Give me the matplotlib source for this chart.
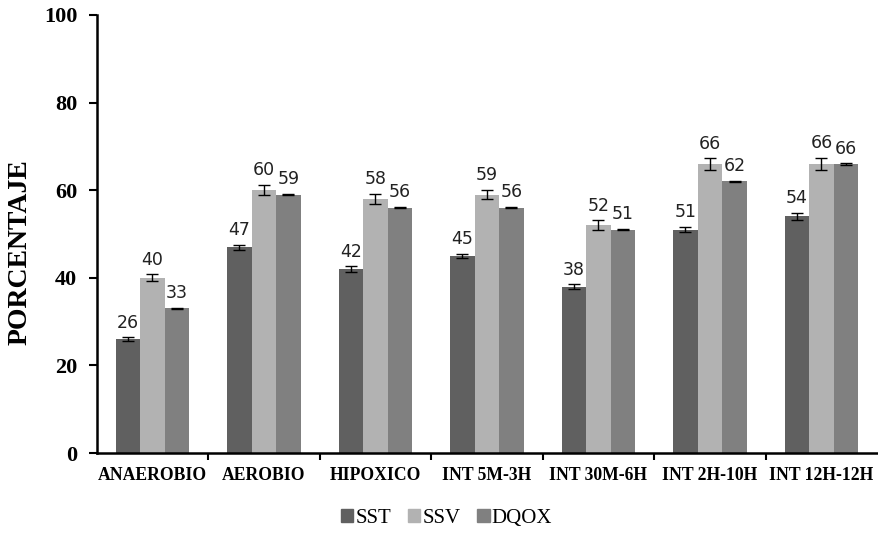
import numpy as np
import matplotlib.pyplot as plt
from matplotlib.patches import Patch

categories = ['ANAEROBIO', 'AEROBIO', 'HIPOXICO', 'INT 5M-3H',
              'INT 30M-6H', 'INT 2H-10H', 'INT 12H-12H']
sst = [26, 47, 42, 45, 38, 51, 54]
ssv = [40, 60, 58, 59, 52, 66, 66]
dqox = [33, 59, 56, 56, 51, 62, 66]
sst_err = [0.4, 0.6, 0.6, 0.5, 0.5, 0.6, 0.8]
ssv_err = [0.8, 1.2, 1.2, 1.1, 1.1, 1.3, 1.4]
dqox_err = [0.15, 0.15, 0.15, 0.15, 0.15, 0.15, 0.15]

series = [('SST', sst, sst_err, '#606060'),
          ('SSV', ssv, ssv_err, '#b2b2b2'),
          ('DQOX', dqox, dqox_err, '#808080')]

serif = ['Liberation Serif', 'DejaVu Serif']

fig = plt.figure(figsize=(8.79, 5.33), dpi=100)
ax = fig.add_axes([0.110, 0.150, 0.888, 0.822])

x = np.arange(len(categories))
w = 0.22
for i, (name, vals, errs, col) in enumerate(series):
    pos = x + (i - 1) * w
    ax.bar(pos, vals, w, color=col, label=name, zorder=2)
    ax.errorbar(pos, vals, yerr=errs, fmt='none', ecolor='black',
                elinewidth=1, capsize=4, capthick=1, zorder=3)
    for p, v, e in zip(pos, vals, errs):
        ax.annotate(str(v), (p, v + e), xytext=(0, 4), textcoords='offset points',
                    ha='center', va='bottom', fontsize=12.5,
                    family='DejaVu Sans', color='#222222')

ax.set_xlim(-0.5, len(categories) - 0.5)
ax.set_ylim(0, 100)
ax.set_yticks(range(0, 101, 20))
ax.set_yticklabels([str(v) for v in range(0, 101, 20)],
                   family=serif, fontweight='bold', fontsize=16)
ax.set_xticks(x)
ax.set_xticklabels(categories, family=serif, fontweight='bold', fontsize=12.7)
ax.tick_params(axis='x', length=0, pad=10)
ax.set_xticks(np.arange(0.5, len(categories) - 1, 1), minor=True)
ax.tick_params(axis='x', which='minor', length=5, width=1.5, direction='out')
ax.tick_params(axis='y', length=6, width=1.5, direction='out', pad=8)

for s in ['top', 'right']:
    ax.spines[s].set_visible(False)
for s in ['left', 'bottom']:
    ax.spines[s].set_linewidth(1.8)

fig.text(20 / 879, 1 - 252 / 533, 'PORCENTAJE', rotation=90, ha='center',
         va='center', family=serif, fontweight='bold', fontsize=20)

handles = [Patch(color=col, label=name) for name, _, _, col in series]
fig.legend(handles=handles, loc='center', bbox_to_anchor=(0.508, 0.028),
           ncol=3, frameon=False, prop={'family': serif, 'size': 15},
           handlelength=0.6, handleheight=0.6, handletextpad=0.1,
           columnspacing=0.8)

fig.savefig('out.png', dpi=100)
